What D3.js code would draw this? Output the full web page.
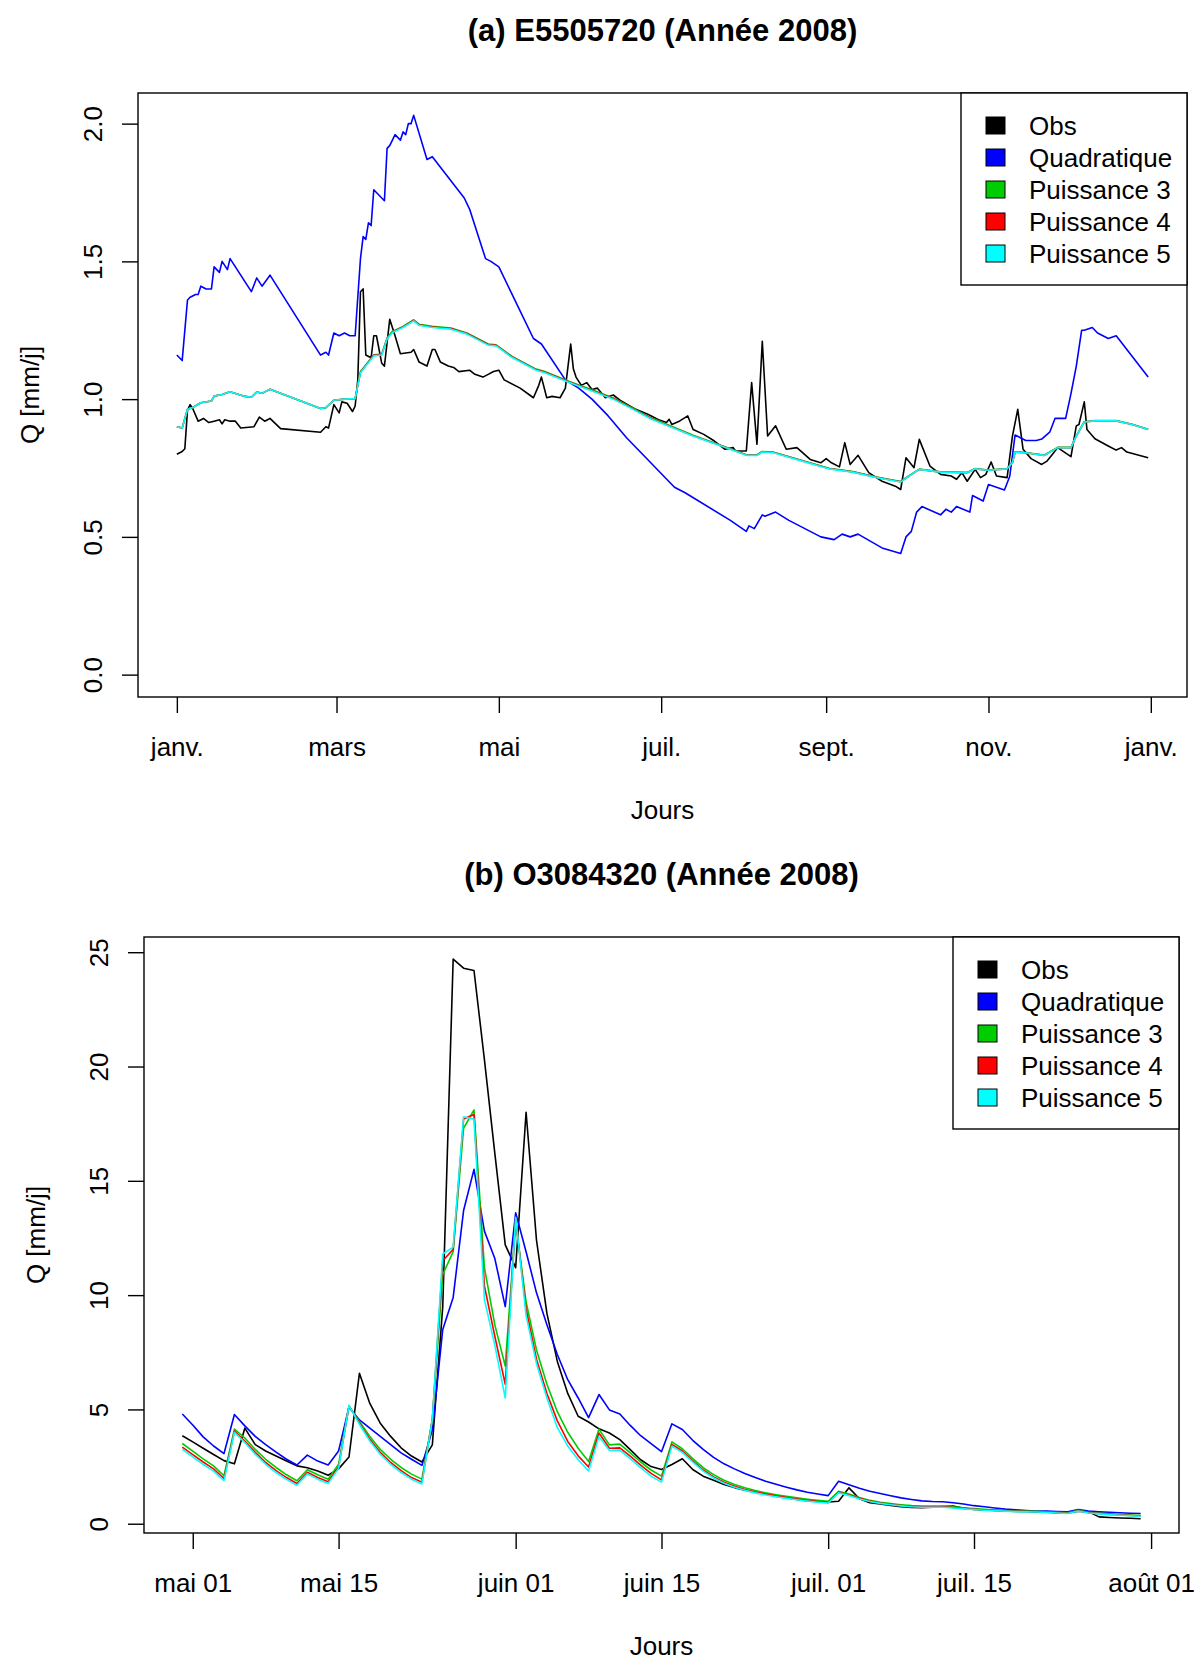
<!DOCTYPE html>
<html>
<head>
<meta charset="utf-8">
<script src="https://cdnjs.cloudflare.com/ajax/libs/d3/7.8.5/d3.min.js"></script>
<style>
body { margin: 0; background: #fff; }
</style>
</head>
<body>
<div id="contents"></div>
<script>
// legend order = drawing order (R default palette)
var seriesNames  = ['Obs', 'Quadratique', 'Puissance 3', 'Puissance 4', 'Puissance 5'];
var seriesColors = ['#000000', '#0000ff', '#00cd00', '#ff0000', '#00ffff'];

// ---- (a) E5505720 : [day of 2008 (0 = 1 janv.), Q mm/j]
var obsA = [[0,0.80],[2,0.81],[3,0.82],[4,0.96],[5,0.98],[6,0.965],[8,0.92],[10,0.93],[12,0.915],[14,0.92],
  [16,0.925],[17,0.91],[18,0.925],[20,0.92],[22,0.92],[24,0.895],[29,0.90],[31,0.935],[33,0.92],[35,0.93],
  [39,0.893],[54,0.88],[56,0.90],[57,0.895],[59,0.98],[61,0.95],[62,0.99],[64,0.985],[66,0.955],[67,0.975],
  [68,1.07],[69,1.39],[70,1.40],[71,1.16],[73,1.15],[74,1.23],[75,1.23],[77,1.13],[78,1.12],[80,1.29],
  [82,1.23],[84,1.165],[88,1.17],[89,1.18],[91,1.135],[94,1.12],[96,1.18],[97,1.18],[99,1.135],[102,1.12],
  [104,1.115],[106,1.10],[110,1.105],[112,1.09],[115,1.08],[117,1.09],[119,1.10],[121,1.105],[123,1.07],[129,1.04],
  [134,1.005],[136,1.05],[137,1.08],[139,1.005],[141,1.01],[144,1.005],[146,1.04],[148,1.20],[149,1.11],[150,1.08],
  [152,1.05],[154,1.06],[156,1.035],[158,1.04],[161,1.005],[164,1.015],[167,0.993],[172,0.965],[177,0.945],[181,0.925],
  [184,0.915],[185,0.927],[186,0.908],[189,0.921],[192,0.939],[194,0.89],[198,0.872],[202,0.848],[206,0.818],[209,0.824],
  [210,0.812],[214,0.812],[216,1.06],[218,0.836],[220,1.21],[222,0.866],[225,0.903],[229,0.818],[233,0.824],[238,0.781],
  [242,0.769],[244,0.784],[246,0.769],[249,0.754],[251,0.842],[253,0.763],[256,0.796],[260,0.733],[265,0.702],[270,0.684],
  [272,0.672],[274,0.787],[277,0.751],[279,0.854],[283,0.757],[287,0.727],[291,0.721],[293,0.709],[295,0.733],[297,0.702],
  [300,0.745],[302,0.715],[304,0.727],[306,0.772],[308,0.721],[312,0.715],[314,0.866],[316,0.963],[318,0.818],[321,0.784],
  [325,0.763],[327,0.775],[329,0.799],[331,0.824],[336,0.791],[338,0.903],[339,0.908],[341,0.99],[342,0.89],[345,0.856],
  [350,0.83],[353,0.815],[355,0.824],[357,0.808],[365,0.787]];

var quadA = [[0,1.16],[2,1.14],[4,1.36],[5,1.37],[7,1.38],[8,1.38],[9,1.41],[11,1.40],[13,1.40],[14,1.48],
  [16,1.46],[17,1.50],[19,1.47],[20,1.51],[28,1.39],[30,1.44],[32,1.41],[35,1.45],[54,1.16],[56,1.17],
  [57,1.16],[59,1.24],[61,1.23],[63,1.24],[65,1.23],[67,1.23],[69,1.51],[70,1.59],[71,1.58],[72,1.64],
  [73,1.63],[74,1.76],[76,1.74],[78,1.72],[79,1.91],[80,1.92],[82,1.96],[84,1.94],[85,1.97],[86,1.96],
  [87,2.00],[88,2.00],[89,2.03],[94,1.87],[96,1.88],[104,1.78],[108,1.73],[110,1.69],[116,1.51],[118,1.50],
  [121,1.48],[134,1.22],[137,1.20],[146,1.07],[151,1.04],[156,1.00],[162,0.94],[169,0.86],[175,0.80],[187,0.68],
  [191,0.66],[208,0.56],[214,0.52],[215,0.54],[217,0.53],[220,0.58],[221,0.575],[225,0.59],[230,0.56],[242,0.50],
  [247,0.49],[250,0.51],[253,0.50],[256,0.51],[265,0.46],[272,0.44],[274,0.50],[276,0.52],[278,0.59],[280,0.61],
  [287,0.58],[289,0.60],[291,0.59],[293,0.61],[298,0.59],[299,0.65],[303,0.63],[305,0.69],[311,0.67],[313,0.72],
  [315,0.87],[317,0.86],[319,0.85],[323,0.85],[325,0.855],[328,0.88],[330,0.93],[334,0.93],[336,1.02],[337,1.07],
  [338,1.12],[340,1.25],[341,1.25],[344,1.26],[346,1.24],[350,1.22],[353,1.23],[365,1.08]];

var p3A = [[0,0.900],[2,0.895],[4,0.963],[6,0.970],[9,0.987],[13,0.993],[14,1.011],[17,1.017],[20,1.027],[25,1.011],
  [28,1.007],[30,1.026],[32,1.021],[35,1.036],[54,0.966],[56,0.969],[59,0.996],[63,1.000],[67,1.002],[69,1.100],
  [71,1.124],[74,1.161],[77,1.164],[79,1.222],[81,1.246],[85,1.264],[89,1.288],[91,1.272],[96,1.264],[103,1.258],
  [109,1.240],[117,1.200],[120,1.197],[126,1.155],[135,1.109],[138,1.101],[147,1.066],[157,1.030],[164,1.004],[170,0.974],
  [178,0.933],[194,0.869],[208,0.820],[214,0.798],[218,0.798],[220,0.810],[224,0.808],[235,0.777],[245,0.749],[254,0.737],
  [263,0.717],[272,0.701],[275,0.721],[279,0.746],[287,0.736],[297,0.734],[300,0.748],[305,0.743],[312,0.748],[314,0.770],
  [315,0.809],[318,0.807],[326,0.797],[331,0.825],[336,0.825],[338,0.867],[341,0.918],[345,0.922],[353,0.922],[359,0.909],
  [365,0.891]];

var p4A = [[0,0.900],[2,0.895],[4,0.963],[6,0.970],[9,0.987],[13,0.993],[14,1.011],[17,1.017],[20,1.027],[25,1.011],
  [28,1.007],[30,1.026],[32,1.021],[35,1.036],[54,0.966],[56,0.969],[59,0.996],[63,1.000],[67,1.002],[69,1.098],
  [71,1.122],[74,1.159],[77,1.162],[79,1.220],[81,1.244],[85,1.262],[89,1.286],[91,1.270],[96,1.262],[103,1.256],
  [109,1.238],[117,1.198],[120,1.195],[126,1.153],[135,1.107],[138,1.099],[147,1.064],[157,1.028],[164,1.002],[170,0.972],
  [178,0.931],[194,0.867],[208,0.819],[214,0.797],[218,0.797],[220,0.809],[224,0.807],[235,0.776],[245,0.748],[254,0.736],
  [263,0.716],[272,0.700],[275,0.720],[279,0.745],[287,0.735],[297,0.733],[300,0.747],[305,0.742],[312,0.747],[314,0.769],
  [315,0.808],[318,0.806],[326,0.796],[331,0.824],[336,0.824],[338,0.866],[341,0.917],[345,0.921],[353,0.921],[359,0.908],
  [365,0.890]];

var p5A = [[0,0.900],[2,0.895],[4,0.963],[6,0.970],[9,0.987],[13,0.993],[14,1.011],[17,1.017],[20,1.027],[25,1.011],
  [28,1.007],[30,1.026],[32,1.021],[35,1.036],[54,0.966],[56,0.969],[59,0.996],[63,1.000],[67,1.002],[69,1.096],
  [71,1.120],[74,1.157],[77,1.160],[79,1.218],[81,1.242],[85,1.260],[89,1.284],[91,1.268],[96,1.260],[103,1.254],
  [109,1.236],[117,1.196],[120,1.193],[126,1.151],[135,1.105],[138,1.097],[147,1.062],[157,1.026],[164,1.000],[170,0.970],
  [178,0.929],[194,0.866],[208,0.818],[214,0.796],[218,0.796],[220,0.808],[224,0.806],[235,0.775],[245,0.747],[254,0.735],
  [263,0.715],[272,0.699],[275,0.720],[279,0.745],[287,0.735],[297,0.733],[300,0.747],[305,0.742],[312,0.747],[314,0.769],
  [315,0.808],[318,0.806],[326,0.796],[331,0.824],[336,0.824],[338,0.866],[341,0.917],[345,0.921],[353,0.921],[359,0.908],
  [365,0.890]];

var ticksA  = ['2008-01-01', '2008-03-01', '2008-05-01', '2008-07-01', '2008-09-01', '2008-11-01', '2009-01-01'];
var labelsA = ['janv.', 'mars', 'mai', 'juil.', 'sept.', 'nov.', 'janv.'];
var yTicksA = [0, 0.5, 1, 1.5, 2];

// ---- (b) O3084320 : daily values from 30 avril to 31 juillet 2008
var startB = '2008-04-30';
var obsB = [3.85,3.58,3.30,3.03,2.76,2.62,4.18,3.46,3.18,2.96,
  2.74,2.53,2.45,2.31,2.12,2.40,2.92,6.58,5.26,4.40,
  3.82,3.32,2.96,2.70,3.45,9.5,24.7,24.3,24.2,20.3,
  16.2,12.2,11.2,18.0,12.4,9.2,7.1,5.7,4.7,4.45,
  4.15,3.97,3.68,3.24,2.80,2.50,2.37,2.59,2.84,2.37,
  2.08,1.90,1.72,1.58,1.47,1.38,1.30,1.20,1.13,1.06,
  1.00,0.97,0.95,0.98,1.57,1.09,0.92,0.86,0.80,0.75,
  0.71,0.70,0.72,0.75,0.77,0.68,0.62,0.60,0.58,0.57,
  0.56,0.55,0.52,0.50,0.48,0.47,0.55,0.52,0.30,0.27,
  0.25,0.24,0.22];
var quadB = [4.80,4.32,3.80,3.40,3.07,4.78,4.28,3.82,3.46,3.13,
  2.82,2.57,3.00,2.74,2.57,3.18,5.11,4.54,4.18,3.82,
  3.46,3.10,2.82,2.55,4.10,8.5,9.9,13.7,15.5,12.8,
  11.6,9.5,13.6,11.9,10.1,8.7,7.4,6.3,5.5,4.64,
  5.65,4.98,4.80,4.30,3.85,3.50,3.15,4.37,4.12,3.65,
  3.25,2.90,2.62,2.40,2.20,2.02,1.86,1.73,1.60,1.48,
  1.38,1.30,1.23,1.86,1.71,1.55,1.42,1.32,1.22,1.13,
  1.06,1.00,0.97,0.96,0.92,0.86,0.79,0.74,0.69,0.64,
  0.61,0.58,0.56,0.55,0.53,0.52,0.62,0.55,0.52,0.50,
  0.48,0.46,0.45];
var p3B = [3.51,3.18,2.84,2.53,2.10,4.14,3.75,3.25,2.82,2.46,
  2.14,1.88,2.36,2.14,1.95,2.60,5.14,4.47,3.82,3.25,
  2.82,2.46,2.17,1.95,4.56,10.9,11.9,17.3,18.1,11.2,
  8.7,6.9,13.2,9.7,7.6,6.1,4.9,4.0,3.3,2.72,
  4.14,3.45,3.48,3.10,2.70,2.35,2.08,3.58,3.28,2.85,
  2.45,2.15,1.90,1.72,1.57,1.45,1.35,1.27,1.20,1.13,
  1.07,1.02,0.98,1.42,1.30,1.15,1.02,0.94,0.88,0.83,
  0.79,0.77,0.77,0.77,0.74,0.70,0.66,0.63,0.60,0.58,
  0.56,0.55,0.54,0.52,0.50,0.48,0.59,0.50,0.46,0.43,
  0.40,0.38,0.36];
var p4B = [3.35,3.02,2.70,2.40,1.98,4.05,3.62,3.12,2.68,2.32,
  2.02,1.76,2.25,2.02,1.84,2.48,5.16,4.40,3.70,3.12,
  2.68,2.32,2.02,1.82,4.56,11.5,12.0,17.7,17.9,10.4,
  8.2,6.1,13.3,9.4,7.2,5.7,4.5,3.6,2.97,2.48,
  3.97,3.30,3.32,2.96,2.56,2.20,1.92,3.47,3.18,2.75,
  2.35,2.05,1.82,1.64,1.50,1.39,1.30,1.22,1.15,1.08,
  1.02,0.97,0.93,1.38,1.26,1.11,0.99,0.91,0.85,0.80,
  0.76,0.74,0.74,0.74,0.71,0.67,0.63,0.60,0.58,0.56,
  0.54,0.53,0.52,0.50,0.48,0.46,0.57,0.48,0.44,0.41,
  0.38,0.36,0.34];
var p5B = [3.25,2.92,2.60,2.30,1.88,4.00,3.55,3.04,2.60,2.24,
  1.94,1.68,2.18,1.95,1.76,2.42,5.18,4.35,3.62,3.04,
  2.60,2.24,1.95,1.74,4.56,11.8,12.1,17.8,17.7,9.8,
  7.8,5.5,13.4,9.1,7.0,5.5,4.2,3.4,2.80,2.31,
  3.81,3.20,3.22,2.85,2.45,2.08,1.82,3.39,3.12,2.70,
  2.30,2.00,1.77,1.60,1.46,1.35,1.26,1.18,1.11,1.05,
  0.99,0.94,0.90,1.35,1.23,1.08,0.97,0.89,0.83,0.78,
  0.74,0.72,0.72,0.72,0.69,0.65,0.62,0.59,0.57,0.55,
  0.53,0.52,0.51,0.49,0.47,0.45,0.56,0.47,0.43,0.40,
  0.37,0.35,0.33];

var ticksB  = ['2008-05-01', '2008-05-15', '2008-06-01', '2008-06-15', '2008-07-01', '2008-07-15', '2008-08-01'];
var labelsB = ['mai 01', 'mai 15', 'juin 01', 'juin 15', 'juil. 01', 'juil. 15', 'août 01'];
var yTicksB = [0, 5, 10, 15, 20, 25];
var yLimB   = [0.56, 24.7];

window.onload = function () {
    'use strict';
    var W = 1196, H = 1656;
    var FONT = '"Liberation Sans", Arial, Helvetica, sans-serif';
    var FS = 26;
    var parse = d3.utcParse('%Y-%m-%d');
    var startA = parse('2008-01-01');

    var svg = d3.select('#contents').append('svg')
        .attr('width', W).attr('height', H)
        .attr('font-family', FONT);
    svg.append('rect').attr('width', W).attr('height', H).attr('fill', '#fff');

    function addDays(date, n) {
        return d3.utcDay.offset(date, n);
    }

    // R style axis range: data range +/- 4%
    function rPad(ext) {
        var d = (ext[1] - ext[0]) * 0.04;
        return [ext[0] - d, ext[1] + d];
    }

    function fromPairs(arr) {
        return arr.map(function (d) { return {date: addDays(startA, d[0]), v: d[1]}; });
    }

    function fromDaily(arr, start) {
        var s = parse(start);
        return arr.map(function (v, i) { return {date: addDays(s, i), v: v}; });
    }

    function drawPanel(p) {
        var b = p.box;
        var all = [].concat.apply([], p.series);
        var xDom = rPad(d3.extent(all, function (d) { return +d.date; }));
        var x = d3.scaleUtc().domain([new Date(xDom[0]), new Date(xDom[1])]).range([b.left, b.right]);
        var y = d3.scaleLinear().domain(rPad(p.ylim)).range([b.bottom, b.top]);
        var cx = (b.left + b.right) / 2;
        var g = svg.append('g');

        // data lines
        var line = d3.line()
            .x(function (d) { return x(d.date); })
            .y(function (d) { return y(d.v); });

        g.append('g')
        .selectAll('path')
        .data(p.series)
        .enter()
        .append('path')
        .attr('d', line)
        .attr('fill', 'none')
        .attr('stroke', function (d, i) { return seriesColors[i]; })
        .attr('stroke-width', 1.6)
        .attr('stroke-linejoin', 'round');

        // frame
        g.append('rect')
        .attr('x', b.left).attr('y', b.top)
        .attr('width', b.right - b.left).attr('height', b.bottom - b.top)
        .attr('fill', 'none').attr('stroke', '#000').attr('stroke-width', 1.4);

        // x axis
        var gx = g.append('g')
            .attr('transform', 'translate(0,' + b.bottom + ')')
            .call(d3.axisBottom(x)
                .tickValues(p.xTicks.map(parse))
                .tickFormat(function (d, i) { return p.xLabels[i]; })
                .tickSize(16).tickSizeOuter(0));
        gx.attr('font-family', FONT).attr('font-size', FS);
        gx.select('.domain').remove();
        gx.selectAll('.tick line').attr('stroke', '#000').attr('stroke-width', 1.4);
        gx.selectAll('.tick text').attr('fill', '#000').attr('y', 50).attr('dy', '0.35em');

        // y axis, labels turned like R's las = 0
        var gy = g.append('g')
            .attr('transform', 'translate(' + b.left + ',0)')
            .call(d3.axisLeft(y)
                .tickValues(p.yTicks)
                .tickFormat(p.yFormat)
                .tickSize(16).tickSizeOuter(0));
        gy.attr('font-family', FONT).attr('font-size', FS);
        gy.select('.domain').remove();
        gy.selectAll('.tick line').attr('stroke', '#000').attr('stroke-width', 1.4);
        gy.selectAll('.tick text')
        .attr('fill', '#000')
        .attr('x', 0).attr('y', 0)
        .attr('text-anchor', 'middle')
        .attr('dy', '0.35em')
        .attr('transform', 'translate(-45,0) rotate(-90)');

        // titles
        g.append('text')
        .attr('x', cx).attr('y', b.top - 63).attr('dy', '0.35em')
        .attr('text-anchor', 'middle')
        .attr('font-size', 31).attr('font-weight', 'bold')
        .text(p.title);

        g.append('text')
        .attr('x', cx).attr('y', b.bottom + 113).attr('dy', '0.35em')
        .attr('text-anchor', 'middle').attr('font-size', FS)
        .text('Jours');

        g.append('text')
        .attr('transform', 'translate(' + (b.left - 108) + ',' + ((b.top + b.bottom) / 2) + ') rotate(-90)')
        .attr('dy', '0.35em')
        .attr('text-anchor', 'middle').attr('font-size', FS)
        .text('Q [mm/j]');

        // legend (topright)
        var LW = 226, STEP = 32;
        var lx = b.right - LW;
        var leg = g.append('g');
        leg.append('rect')
        .attr('x', lx).attr('y', b.top)
        .attr('width', LW).attr('height', STEP * 6)
        .attr('fill', '#fff').attr('stroke', '#000').attr('stroke-width', 1.4);

        var items = leg.selectAll('.item')
            .data(seriesNames)
            .enter()
            .append('g')
            .attr('transform', function (d, i) {
                return 'translate(' + lx + ',' + (b.top + 32.5 + i * STEP) + ')';
            });
        items.append('rect')
        .attr('x', 25).attr('y', -8.5)
        .attr('width', 19).attr('height', 17)
        .attr('fill', function (d, i) { return seriesColors[i]; })
        .attr('stroke', '#000').attr('stroke-width', 1);
        items.append('text')
        .attr('x', 68).attr('dy', '0.35em')
        .attr('font-size', FS)
        .text(function (d) { return d; });
    }

    var seriesA = [obsA, quadA, p3A, p4A, p5A].map(fromPairs);
    var allA = [].concat.apply([], seriesA);

    drawPanel({
        title: '(a) E5505720 (Année 2008)',
        box: {left: 138, right: 1187, top: 93, bottom: 697},
        series: seriesA,
        ylim: [0, d3.max(allA, function (d) { return d.v; })],
        xTicks: ticksA, xLabels: labelsA,
        yTicks: yTicksA, yFormat: d3.format('.1f')
    });

    drawPanel({
        title: '(b) O3084320 (Année 2008)',
        box: {left: 144, right: 1179, top: 937, bottom: 1533},
        series: [obsB, quadB, p3B, p4B, p5B].map(function (s) { return fromDaily(s, startB); }),
        ylim: yLimB,
        xTicks: ticksB, xLabels: labelsB,
        yTicks: yTicksB, yFormat: d3.format('d')
    });
};
</script>
</body>
</html>
